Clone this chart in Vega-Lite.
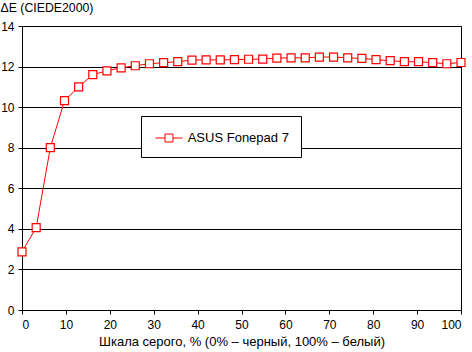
{
  "$schema": "https://vega.github.io/schema/vega-lite/v6.json",
  "width": 439,
  "height": 284,
  "autosize": "none",
  "padding": {"left": 22, "top": 26, "right": 11, "bottom": 42},
  "background": "white",
  "config": {
    "font": "Liberation Sans",
    "view": {"stroke": "black", "strokeWidth": 1},
    "axis": {
      "labelFont": "Liberation Sans",
      "titleFont": "Liberation Sans",
      "labelFontSize": 12,
      "titleFontSize": 12,
      "titleFontWeight": "normal",
      "labelColor": "black",
      "titleColor": "black",
      "domainColor": "black",
      "tickColor": "black",
      "gridColor": "black",
      "gridOpacity": 1,
      "tickSize": 4
    }
  },
  "data": {
    "values": [
      {"x": 0, "y": 2.87, "s": "ASUS Fonepad 7"},
      {"x": 3.23, "y": 4.06, "s": "ASUS Fonepad 7"},
      {"x": 6.45, "y": 8.0, "s": "ASUS Fonepad 7"},
      {"x": 9.68, "y": 10.32, "s": "ASUS Fonepad 7"},
      {"x": 12.9, "y": 11.0, "s": "ASUS Fonepad 7"},
      {"x": 16.13, "y": 11.6, "s": "ASUS Fonepad 7"},
      {"x": 19.35, "y": 11.79, "s": "ASUS Fonepad 7"},
      {"x": 22.58, "y": 11.94, "s": "ASUS Fonepad 7"},
      {"x": 25.81, "y": 12.04, "s": "ASUS Fonepad 7"},
      {"x": 29.03, "y": 12.14, "s": "ASUS Fonepad 7"},
      {"x": 32.26, "y": 12.19, "s": "ASUS Fonepad 7"},
      {"x": 35.48, "y": 12.24, "s": "ASUS Fonepad 7"},
      {"x": 38.71, "y": 12.32, "s": "ASUS Fonepad 7"},
      {"x": 41.94, "y": 12.33, "s": "ASUS Fonepad 7"},
      {"x": 45.16, "y": 12.33, "s": "ASUS Fonepad 7"},
      {"x": 48.39, "y": 12.34, "s": "ASUS Fonepad 7"},
      {"x": 51.61, "y": 12.36, "s": "ASUS Fonepad 7"},
      {"x": 54.84, "y": 12.37, "s": "ASUS Fonepad 7"},
      {"x": 58.06, "y": 12.42, "s": "ASUS Fonepad 7"},
      {"x": 61.29, "y": 12.43, "s": "ASUS Fonepad 7"},
      {"x": 64.52, "y": 12.43, "s": "ASUS Fonepad 7"},
      {"x": 67.74, "y": 12.47, "s": "ASUS Fonepad 7"},
      {"x": 70.97, "y": 12.47, "s": "ASUS Fonepad 7"},
      {"x": 74.19, "y": 12.43, "s": "ASUS Fonepad 7"},
      {"x": 77.42, "y": 12.40, "s": "ASUS Fonepad 7"},
      {"x": 80.65, "y": 12.34, "s": "ASUS Fonepad 7"},
      {"x": 83.87, "y": 12.29, "s": "ASUS Fonepad 7"},
      {"x": 87.1, "y": 12.24, "s": "ASUS Fonepad 7"},
      {"x": 90.32, "y": 12.24, "s": "ASUS Fonepad 7"},
      {"x": 93.55, "y": 12.19, "s": "ASUS Fonepad 7"},
      {"x": 96.77, "y": 12.14, "s": "ASUS Fonepad 7"},
      {"x": 100, "y": 12.2, "s": "ASUS Fonepad 7"}
    ]
  },
  "encoding": {
    "x": {
      "field": "x",
      "type": "quantitative",
      "scale": {"domain": [0, 100], "nice": false},
      "axis": {
        "values": [0, 10, 20, 30, 40, 50, 60, 70, 80, 90, 100],
        "grid": false,
        "labelPadding": 5,
        "title": "Шкала серого, % (0% – черный, 100% – белый)",
        "titleFontSize": 13,
        "titleY": 35,
        "titleBaseline": "alphabetic"
      }
    },
    "y": {
      "field": "y",
      "type": "quantitative",
      "scale": {"domain": [0, 14], "nice": false},
      "axis": {
        "values": [0, 2, 4, 6, 8, 10, 12, 14],
        "grid": true,
        "labelPadding": 4,
        "title": "ΔE (CIEDE2000)",
        "titleFontSize": 12.3,
        "titleAngle": 0,
        "titleAlign": "left",
        "titleBaseline": "alphabetic",
        "titleX": -22,
        "titleY": -15
      }
    }
  },
  "layer": [
    {
      "mark": {"type": "line", "strokeWidth": 1},
      "encoding": {
        "color": {
          "field": "s",
          "type": "nominal",
          "scale": {"range": ["#ff0000"]},
          "legend": {
            "title": null,
            "orient": "none",
            "legendX": 119,
            "legendY": 90,
            "strokeColor": "black",
            "fillColor": "white",
            "padding": 12,
            "symbolOffset": 6,
            "symbolType": "M-1.42,0H-0.42M0.42,0H1.42M-0.42,-0.42H0.42V0.42H-0.42Z",
            "symbolSize": 361,
            "symbolStrokeWidth": 1,
            "symbolFillColor": "white",
            "symbolStrokeColor": "#ff0000",
            "labelFont": "Liberation Sans",
            "labelFontSize": 13,
            "labelColor": "black",
            "labelOffset": 8.7,
            "encode": {
              "symbols": {"update": {"fill": {"value": "white"}, "stroke": {"value": "#ff0000"}, "strokeWidth": {"value": 1}}}
            }
          }
        }
      }
    },
    {
      "mark": {"type": "point", "shape": "square", "size": 64, "filled": false, "fill": "white", "fillOpacity": 1, "stroke": "#ff0000", "strokeWidth": 1.2, "opacity": 1}
    }
  ]
}
